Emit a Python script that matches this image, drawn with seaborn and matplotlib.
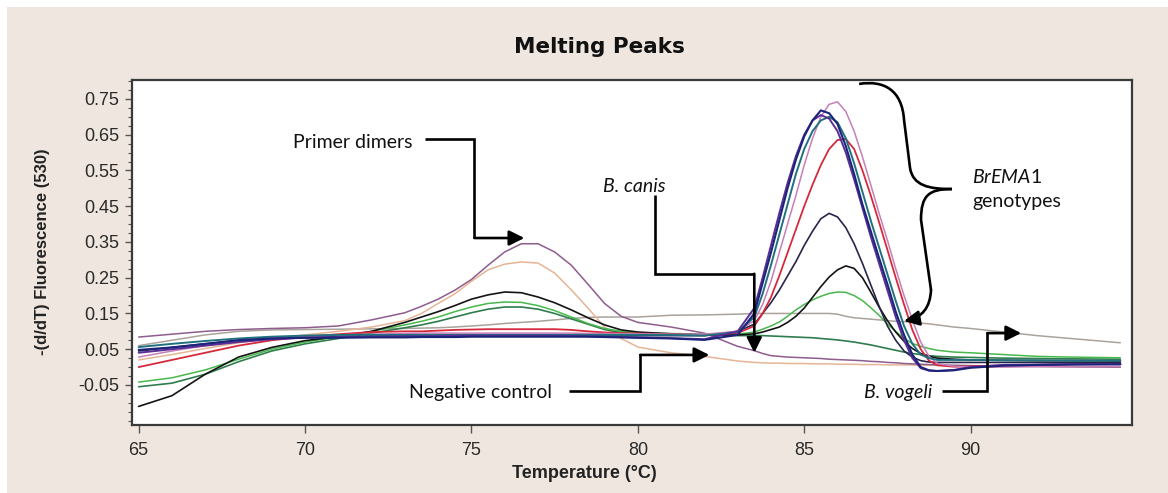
import matplotlib
matplotlib.use("Agg")
import matplotlib.pyplot as plt
import seaborn as sns
import pandas as pd
from matplotlib.path import Path
from matplotlib.patches import PathPatch, Rectangle
from matplotlib.ticker import MultipleLocator

# ---------------- data ----------------
temperature = [65, 66, 67, 68, 69, 70, 71, 72, 73,
               73.5, 74, 74.5, 75, 75.5, 76, 76.5, 77, 77.5, 78, 78.5, 79, 79.5, 80,
               81, 82, 83,
               83.5, 83.75, 84, 84.25, 84.5, 84.75, 85, 85.25, 85.5, 85.75, 86, 86.25,
               86.5, 86.75, 87, 87.25, 87.5, 87.75, 88, 88.25, 88.5, 88.75, 89,
               89.5, 90, 91, 92, 93, 94.5]

purple_bcanis = [0.084, 0.092, 0.100, 0.105, 0.108, 0.110, 0.115, 0.132, 0.152,
                 0.170, 0.190, 0.215, 0.245, 0.285, 0.322, 0.345, 0.345, 0.322, 0.285, 0.232, 0.178, 0.142, 0.125,
                 0.112, 0.095, 0.058,
                 0.046, 0.038, 0.032, 0.030, 0.028, 0.027, 0.026, 0.025, 0.024, 0.022, 0.021, 0.020,
                 0.019, 0.018, 0.016, 0.015, 0.013, 0.012, 0.010, 0.009, 0.008, 0.007, 0.006,
                 0.005, 0.004, 0.003, 0.002, 0.001, 0.000]

tan_negative = [0.020, 0.035, 0.052, 0.068, 0.080, 0.090, 0.100, 0.112, 0.130,
                0.150, 0.178, 0.205, 0.240, 0.272, 0.288, 0.294, 0.291, 0.263, 0.216, 0.165, 0.112, 0.080, 0.056,
                0.040, 0.030, 0.017,
                0.013, 0.012, 0.011, 0.011, 0.010, 0.010, 0.010, 0.009, 0.009, 0.009, 0.008, 0.008,
                0.008, 0.007, 0.007, 0.007, 0.006, 0.006, 0.006, 0.006, 0.005, 0.005, 0.005,
                0.004, 0.004, 0.003, 0.002, 0.001, 0.000]

black_low = [-0.110, -0.080, -0.020, 0.028, 0.055, 0.074, 0.085, 0.100, 0.125,
             0.140, 0.155, 0.172, 0.190, 0.202, 0.210, 0.208, 0.196, 0.180, 0.160, 0.138, 0.118, 0.104, 0.098,
             0.093, 0.090, 0.090,
             0.093, 0.098, 0.105, 0.112, 0.125, 0.142, 0.165, 0.195, 0.225, 0.252, 0.272, 0.283,
             0.276, 0.250, 0.210, 0.168, 0.130, 0.098, 0.072, 0.052, 0.038, 0.030, 0.025,
             0.022, 0.020, 0.019, 0.018, 0.018, 0.017]

green_low = [-0.042, -0.030, -0.008, 0.022, 0.050, 0.070, 0.085, 0.100, 0.118,
             0.128, 0.140, 0.155, 0.168, 0.178, 0.182, 0.181, 0.172, 0.158, 0.140, 0.122, 0.108, 0.100, 0.096,
             0.094, 0.092, 0.092,
             0.098, 0.106, 0.115, 0.126, 0.142, 0.160, 0.175, 0.188, 0.198, 0.206, 0.210, 0.209,
             0.200, 0.186, 0.166, 0.145, 0.120, 0.100, 0.080, 0.066, 0.058, 0.052, 0.047,
             0.042, 0.040, 0.035, 0.030, 0.028, 0.026]

darkgreen_primer = [-0.055, -0.045, -0.020, 0.015, 0.045, 0.065, 0.080, 0.095, 0.110,
                    0.118, 0.128, 0.140, 0.152, 0.162, 0.168, 0.168, 0.162, 0.150, 0.135, 0.120, 0.105, 0.097, 0.093,
                    0.092, 0.090, 0.088,
                    0.088, 0.088, 0.087, 0.086, 0.085, 0.084, 0.083, 0.082, 0.080, 0.078, 0.076, 0.073,
                    0.070, 0.066, 0.062, 0.057, 0.052, 0.047, 0.042, 0.038, 0.035, 0.032, 0.030,
                    0.028, 0.027, 0.025, 0.024, 0.023, 0.022]

gray_vogeli = [0.060, 0.075, 0.090, 0.100, 0.104, 0.105, 0.106, 0.107, 0.108,
               0.109, 0.110, 0.112, 0.115, 0.118, 0.122, 0.125, 0.128, 0.132, 0.136, 0.139, 0.140, 0.140, 0.140,
               0.145, 0.146, 0.148,
               0.150, 0.150, 0.150, 0.150, 0.150, 0.150, 0.150, 0.150, 0.150, 0.150, 0.148, 0.142,
               0.138, 0.136, 0.134, 0.132, 0.130, 0.128, 0.127, 0.125, 0.123, 0.121, 0.118,
               0.112, 0.108, 0.098, 0.088, 0.080, 0.068]

pink_brema = [0.028, 0.045, 0.060, 0.072, 0.080, 0.085, 0.090, 0.092, 0.094,
              0.095, 0.095, 0.095, 0.095, 0.095, 0.095, 0.095, 0.095, 0.095, 0.095, 0.094, 0.094, 0.093, 0.093,
              0.092, 0.092, 0.100,
              0.130, 0.175, 0.240, 0.320, 0.400, 0.480, 0.565, 0.640, 0.700, 0.735, 0.742, 0.715,
              0.660, 0.588, 0.510, 0.430, 0.355, 0.275, 0.200, 0.132, 0.070, 0.030, 0.010,
              0.002, 0.000, 0.000, 0.001, 0.001, 0.002]

navy_brema = [0.048, 0.055, 0.065, 0.075, 0.080, 0.082, 0.082, 0.083, 0.083,
              0.084, 0.084, 0.084, 0.085, 0.085, 0.085, 0.085, 0.085, 0.085, 0.085, 0.085, 0.084, 0.083, 0.082,
              0.080, 0.076, 0.090,
              0.150, 0.235, 0.320, 0.410, 0.500, 0.580, 0.645, 0.690, 0.718, 0.710, 0.680, 0.618,
              0.540, 0.455, 0.380, 0.305, 0.232, 0.155, 0.090, 0.035, 0.000, -0.009, -0.011,
              -0.009, -0.002, 0.004, 0.006, 0.007, 0.008]

violet_brema = [0.040, 0.050, 0.060, 0.070, 0.078, 0.082, 0.084, 0.085, 0.086,
                0.086, 0.087, 0.088, 0.088, 0.088, 0.088, 0.088, 0.088, 0.088, 0.087, 0.086, 0.085, 0.084, 0.083,
                0.081, 0.078, 0.100,
                0.165, 0.250, 0.340, 0.430, 0.515, 0.590, 0.650, 0.690, 0.705, 0.695, 0.660, 0.600,
                0.525, 0.445, 0.365, 0.290, 0.215, 0.140, 0.075, 0.025, -0.003, -0.010, -0.011,
                -0.008, 0.000, 0.006, 0.007, 0.008, 0.008]

teal_brema = [0.056, 0.065, 0.073, 0.080, 0.085, 0.088, 0.090, 0.090, 0.090,
              0.090, 0.090, 0.090, 0.090, 0.090, 0.090, 0.090, 0.090, 0.090, 0.090, 0.090, 0.090, 0.090, 0.090,
              0.090, 0.088, 0.098,
              0.140, 0.205, 0.285, 0.370, 0.455, 0.540, 0.610, 0.660, 0.690, 0.700, 0.685, 0.640,
              0.570, 0.490, 0.410, 0.335, 0.260, 0.185, 0.115, 0.065, 0.035, 0.025, 0.020,
              0.020, 0.020, 0.019, 0.019, 0.018, 0.018]

red_brema = [0.000, 0.020, 0.040, 0.060, 0.075, 0.085, 0.092, 0.098, 0.100,
             0.100, 0.102, 0.104, 0.105, 0.106, 0.106, 0.106, 0.106, 0.106, 0.104, 0.100, 0.097, 0.095, 0.094,
             0.092, 0.090, 0.095,
             0.115, 0.150, 0.195, 0.255, 0.320, 0.385, 0.450, 0.510, 0.565, 0.610, 0.635, 0.638,
             0.610, 0.550, 0.480, 0.405, 0.328, 0.250, 0.175, 0.104, 0.050, 0.018, 0.005,
             0.001, 0.002, 0.005, 0.006, 0.008, 0.009]

navyblack_brema = [0.045, 0.055, 0.065, 0.075, 0.080, 0.083, 0.085, 0.087, 0.088,
                   0.088, 0.088, 0.088, 0.088, 0.088, 0.088, 0.088, 0.088, 0.088, 0.088, 0.088, 0.088, 0.088, 0.088,
                   0.088, 0.088, 0.100,
                   0.120, 0.150, 0.180, 0.215, 0.255, 0.295, 0.340, 0.380, 0.415, 0.430, 0.420, 0.390,
                   0.345, 0.290, 0.230, 0.170, 0.115, 0.075, 0.045, 0.028, 0.018, 0.014, 0.013,
                   0.013, 0.013, 0.013, 0.013, 0.013, 0.012]

series_names = ["gray_vogeli", "tan_negative", "purple_bcanis", "darkgreen_primer", "green_low",
                "black_low", "navyblack_brema", "red_brema", "pink_brema", "teal_brema",
                "violet_brema", "navy_brema"]
series_values = [gray_vogeli, tan_negative, purple_bcanis, darkgreen_primer, green_low,
                 black_low, navyblack_brema, red_brema, pink_brema, teal_brema,
                 violet_brema, navy_brema]
series_colors = ["#A9A39B", "#E6B596", "#8E5C8E", "#2F7D4E", "#48B84C",
                 "#141414", "#26264A", "#D42A3C", "#C87EB8", "#21707F",
                 "#5A2E96", "#1C237A"]
series_widths = [1.1, 1.1, 1.1, 1.2, 1.1, 1.2, 1.2, 1.3, 1.1, 1.4, 1.4, 1.5]

y_ticks = [-0.05, 0.05, 0.15, 0.25, 0.35, 0.45, 0.55, 0.65, 0.75]
y_tick_labels = ["-0.05", "0.05", "0.15", "0.25", "0.35", "0.45", "0.55", "0.65", "0.75"]
x_ticks = [65, 70, 75, 80, 85, 90]
x_tick_labels = ["65", "70", "75", "80", "85", "90"]

# ---------------- style ----------------
sns.set_style("white")
plt.rcParams["font.family"] = ["Liberation Sans", "DejaVu Sans"]
plt.rcParams["mathtext.fontset"] = "custom"
plt.rcParams["mathtext.it"] = "Lato:italic"
plt.rcParams["mathtext.rm"] = "Lato"

W, H = 1168, 493
fig = plt.figure(figsize=(W / 100, H / 100), dpi=100)
fig.patch.set_facecolor("white")
fig.patches.append(Rectangle((7 / W, 0), 1, (H - 7) / H, transform=fig.transFigure,
                             facecolor="#EFE7DF", edgecolor="none", zorder=-10))

ax = fig.add_axes([132 / W, (H - 425) / H, 1000 / W, 345 / H])
ax.set_facecolor("white")

for name, vals, col, lw in zip(series_names, series_values, series_colors, series_widths):
    df = pd.DataFrame({"Temperature": temperature, "value": vals})
    sns.lineplot(data=df, x="Temperature", y="value", color=col, linewidth=lw,
                 estimator=None, sort=False, ax=ax)

ax.set_xlim(64.8, 94.85)
ax.set_ylim(-0.162, 0.803)
ax.set_xlabel("")
ax.set_ylabel("")
ax.set_xticks(x_ticks)
ax.set_xticklabels(x_tick_labels)
ax.set_yticks(y_ticks)
ax.set_yticklabels(y_tick_labels)
ax.yaxis.set_minor_locator(MultipleLocator(0.025))
ax.tick_params(axis="both", which="major", direction="out", length=5, width=1,
               color="#555555", labelsize=13, labelcolor="#2a2a2a", left=True, bottom=True)
ax.tick_params(axis="x", which="major", length=6, pad=6)
ax.tick_params(axis="y", which="major", pad=4)
ax.tick_params(axis="y", which="minor", direction="out", length=3, width=0.8,
               color="#555555", left=True)
for sp in ax.spines.values():
    sp.set_color("#3a3a3a")
    sp.set_linewidth(1.6)

# ---------------- titles ----------------
fig.text(599 / W, (H - 47) / H, "Melting Peaks", ha="center", va="center",
         fontsize=15.5, fontweight="heavy", family="DejaVu Sans", color="#111111")
fig.text(43 / W, (H - 252) / H, "-(d/dT) Fluorescence (530)", rotation=90,
         ha="center", va="center", fontsize=12, fontweight="bold", color="#222222")
fig.text(584 / W, (H - 474) / H, "Temperature (°C)", ha="center", va="center",
         fontsize=13, fontweight="bold", color="#222222")

# ---------------- annotations ----------------
ann_font = dict(family=["Lato", "DejaVu Sans"], fontsize=14, color="#111111")
ARROW = "-|>,head_length=0.7,head_width=0.35"


def elbow(points):
    xs = [p[0] for p in points[:-1]]
    ys = [p[1] for p in points[:-1]]
    ax.plot(xs, ys, color="black", lw=1.9, solid_joinstyle="miter",
            solid_capstyle="butt", clip_on=False, zorder=6)
    ax.annotate("", xy=points[-1], xytext=points[-2],
                arrowprops=dict(arrowstyle=ARROW, mutation_scale=13, color="black",
                                lw=1.9, shrinkA=0, shrinkB=0),
                annotation_clip=False, zorder=6)


elbow([(73.59, 0.638), (75.09, 0.638), (75.09, 0.361), (76.59, 0.361)])
elbow([(80.53, 0.481), (80.53, 0.261), (83.50, 0.261), (83.50, 0.040)])
elbow([(77.94, -0.067), (80.07, -0.067), (80.07, 0.034), (82.15, 0.034)])
elbow([(89.14, -0.067), (90.50, -0.067), (90.50, 0.095), (91.52, 0.095)])

ax.text(73.23, 0.627, "Primer dimers", ha="right", va="center", **ann_font)
ax.text(79.89, 0.504, "B. canis", ha="center", va="center", style="italic", **ann_font)
ax.text(77.43, -0.072, "Negative control", ha="right", va="center", **ann_font)
ax.text(88.84, -0.072, "B. vogeli", ha="right", va="center", style="italic", **ann_font)
ax.text(90.04, 0.532, r"$\mathit{BrEMA}$1", ha="left", va="center", **ann_font)
ax.text(90.04, 0.462, "genotypes", ha="left", va="center", **ann_font)

# curly brace
top_half = Path([(86.65, 0.792), (87.40, 0.803), (87.94, 0.775), (88.00, 0.691),
                 (88.18, 0.557), (88.27, 0.507), (88.75, 0.498), (89.44, 0.498)],
                [Path.MOVETO, Path.CURVE4, Path.CURVE4, Path.CURVE4,
                 Path.LINETO, Path.CURVE4, Path.CURVE4, Path.CURVE4])
bottom_half = Path([(89.44, 0.498), (88.75, 0.498), (88.51, 0.481), (88.51, 0.412),
                    (88.81, 0.216)],
                   [Path.MOVETO, Path.CURVE4, Path.CURVE4, Path.CURVE4, Path.LINETO])
for p in (top_half, bottom_half):
    ax.add_patch(PathPatch(p, facecolor="none", edgecolor="black", lw=1.9,
                           clip_on=False, zorder=6))
ax.annotate("", xy=(88.0, 0.129), xytext=(88.81, 0.216),
            arrowprops=dict(arrowstyle=ARROW, mutation_scale=13, color="black", lw=1.9,
                            shrinkA=0, shrinkB=0, connectionstyle="arc3,rad=-0.4"),
            annotation_clip=False, zorder=6)

fig.savefig("out.png", dpi=100, facecolor=fig.get_facecolor())
